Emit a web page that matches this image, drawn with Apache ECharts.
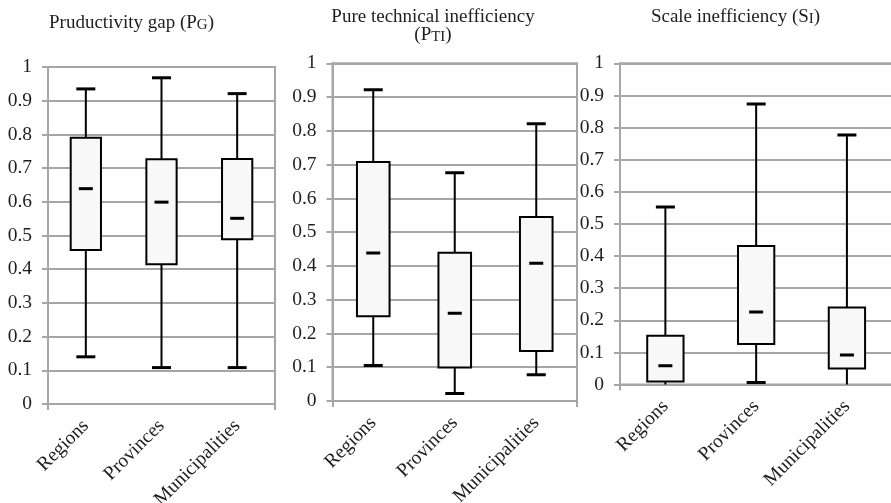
<!DOCTYPE html>
<html>
<head>
<meta charset="utf-8">
<script src="https://cdn.jsdelivr.net/npm/echarts@6/dist/echarts.min.js"></script>
<style>html,body{margin:0;padding:0;background:#fff}#c{width:891px;height:503px}</style>
</head>
<body>
<div id="c"></div>
<script>
const categories = ['Regions', 'Provinces', 'Municipalities'];

// Productivity gap (PG)
const pgMin    = [0.140, 0.108, 0.108];
const pgQ1     = [0.457, 0.415, 0.489];
const pgMedian = [0.639, 0.599, 0.551];
const pgQ3     = [0.790, 0.726, 0.727];
const pgMax    = [0.935, 0.968, 0.921];

// Pure technical inefficiency (PTI)
const ptiMin    = [0.105, 0.022, 0.078];
const ptiQ1     = [0.251, 0.099, 0.148];
const ptiMedian = [0.438, 0.260, 0.408];
const ptiQ3     = [0.708, 0.439, 0.545];
const ptiMax    = [0.922, 0.676, 0.821];

// Scale inefficiency (SI)
const siMin    = [-0.01, 0.006, -0.01];
const siQ1     = [0.009, 0.126, 0.050];
const siMedian = [0.058, 0.2255, 0.092];
const siQ3     = [0.152, 0.431, 0.240];
const siMax    = [0.553, 0.873, 0.777];

const yTickValues = [0, 0.1, 0.2, 0.3, 0.4, 0.5, 0.6, 0.7, 0.8, 0.9, 1];

const FONT = '"Liberation Serif", "Times New Roman", serif';
const GRAY = '#a6a6a6';
const TXT = '#1e1e1e';

function build(mn, q1, md, q3, mx) {
  return categories.map((c, i) => [i, mn[i], q1[i], md[i], q3[i], mx[i]]);
}
const panels = [
  build(pgMin, pgQ1, pgMedian, pgQ3, pgMax),
  build(ptiMin, ptiQ1, ptiMedian, ptiQ3, ptiMax),
  build(siMin, siQ1, siMedian, siQ3, siMax)
];

const grids = [
  { left: 48, right: 616, top: 67, bottom: 99 },
  { left: 332.5, right: 314, top: 63.3, bottom: 102 },
  { left: 620, right: -1.3, top: 63.3, bottom: 118.5 }
];

function renderBox(params, api) {
  const x = api.value(0);
  const pMin = api.coord([x, api.value(1)]);
  const pQ1 = api.coord([x, api.value(2)]);
  const pMed = api.coord([x, api.value(3)]);
  const pQ3 = api.coord([x, api.value(4)]);
  const pMax = api.coord([x, api.value(5)]);
  const cx = pMed[0];
  const band = api.size([1, 0])[0];
  const boxW = band * 0.4;
  const capW = 19, medW = 14, thick = 3;
  const lineStyle = { stroke: '#000', lineWidth: 2 };
  return {
    type: 'group',
    children: [
      { type: 'line', shape: { x1: cx, y1: pQ3[1], x2: cx, y2: pMax[1] }, style: lineStyle },
      { type: 'line', shape: { x1: cx, y1: pQ1[1], x2: cx, y2: pMin[1] }, style: lineStyle },
      { type: 'rect', shape: { x: cx - boxW / 2, y: pQ3[1], width: boxW, height: pQ1[1] - pQ3[1] },
        style: { fill: '#f8f8f8', stroke: '#000', lineWidth: 2 } },
      { type: 'rect', shape: { x: cx - medW / 2, y: pMed[1] - thick / 2, width: medW, height: thick }, style: { fill: '#000' } },
      { type: 'rect', shape: { x: cx - capW / 2, y: pMax[1] - thick / 2, width: capW, height: thick }, style: { fill: '#000' } },
      { type: 'rect', shape: { x: cx - capW / 2, y: pMin[1] - thick / 2, width: capW, height: thick }, style: { fill: '#000' } }
    ]
  };
}

const xAxis = [], yAxis = [], series = [];
grids.forEach((g, i) => {
  xAxis.push({
    type: 'category', gridIndex: i, data: categories, boundaryGap: true,
    axisLine: { show: true, lineStyle: { color: GRAY, width: 2 } },
    axisTick: { show: false },
    axisLabel: { rotate: 45, margin: 19, fontFamily: FONT, fontSize: 19.5, color: TXT, interval: 0 },
    splitLine: { show: false }
  });
  xAxis.push({
    type: 'value', gridIndex: i, min: 0, max: 1, interval: 1, position: 'bottom',
    axisLine: { show: false },
    axisTick: { show: true, length: 6, lineStyle: { color: GRAY, width: 2 } },
    axisLabel: { show: false }, splitLine: { show: false }
  });
  yAxis.push({
    type: 'value', gridIndex: i, min: 0, max: 1, interval: 0.1,
    axisLine: { show: true, lineStyle: { color: GRAY, width: 2 } },
    axisTick: { show: true, length: 6, lineStyle: { color: GRAY, width: 2 } },
    axisLabel: { margin: 16, fontFamily: FONT, fontSize: 19.5, color: TXT,
      formatter: v => String(Math.round(v * 10) / 10) },
    splitLine: { show: true, lineStyle: { color: GRAY, width: 2 } }
  });
  series.push({
    type: 'custom', xAxisIndex: i * 2, yAxisIndex: i, clip: true,
    renderItem: renderBox,
    encode: { x: 0, y: [1, 2, 3, 4, 5] },
    data: panels[i]
  });
});

const titleStyle = {
  fontFamily: FONT, fontSize: 19, fontWeight: 'normal', color: TXT,
  rich: {
    n: { fontFamily: FONT, fontSize: 19, color: TXT, lineHeight: 18.5, verticalAlign: 'bottom' },
    sc: { fontFamily: FONT, fontSize: 15, color: TXT, lineHeight: 18.5, verticalAlign: 'bottom' }
  }
};

const option = {
  animation: false,
  backgroundColor: '#fff',
  title: [
    { text: '{n|Pruductivity gap (P}{sc|G}{n|)}', left: 131.5, top: 14, textAlign: 'center', padding: 0, textStyle: titleStyle },
    { text: '{n|Pure technical inefficiency}\n{n|(P}{sc|TI}{n|)}', left: 433, top: 8, textAlign: 'center', padding: 0, textStyle: titleStyle },
    { text: '{n|Scale inefficiency (S}{sc|I}{n|)}', left: 735.5, top: 8, textAlign: 'center', padding: 0, textStyle: titleStyle }
  ],
  grid: grids.map(g => Object.assign({ show: true, borderColor: GRAY, borderWidth: 2, backgroundColor: 'transparent',
    containLabel: false, outerBoundsMode: 'none' }, g)),
  xAxis: xAxis,
  yAxis: yAxis,
  series: series
};

const chart = echarts.init(document.getElementById('c'), null, { renderer: 'canvas' });
chart.setOption(option);
</script>
</body>
</html>
